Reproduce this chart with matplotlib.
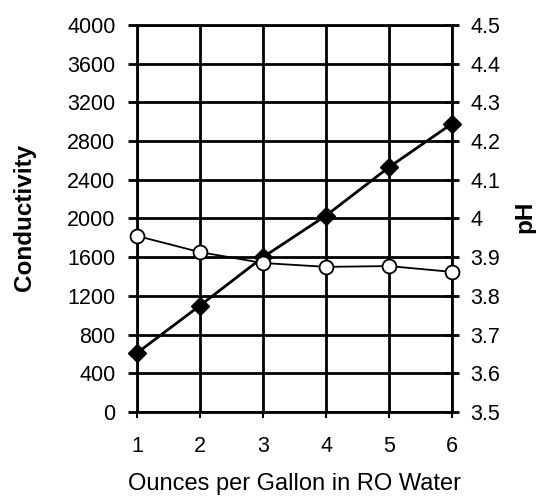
"""Conductivity and pH against ounces per gallon in RO water."""

import matplotlib.pyplot as plt

plt.rcParams["font.family"] = ["Liberation Sans", "DejaVu Sans"]

# data
OUNCES = [1, 2, 3, 4, 5, 6]
CONDUCTIVITY = [610, 1100, 1600, 2030, 2530, 2980]
PH = [3.955, 3.913, 3.885, 3.875, 3.877, 3.862]

COND_TICKS = list(range(0, 4001, 400))
PH_TICKS = [3.5, 3.6, 3.7, 3.8, 3.9, 4.0, 4.1, 4.2, 4.3, 4.4, 4.5]
PH_LABELS = ["3.5", "3.6", "3.7", "3.8", "3.9", "4", "4.1", "4.2", "4.3", "4.4", "4.5"]


def main():
    fig = plt.figure(figsize=(5.36, 4.96), dpi=100)
    ax = fig.add_axes([0.2556, 0.1694, 0.5877, 0.7802])
    ax2 = ax.twinx()

    ax.set_xlim(1, 6)
    ax.set_ylim(0, 4000)
    ax.set_xticks(OUNCES)
    ax.set_yticks(COND_TICKS)
    ax.grid(True, color="black", linewidth=2)
    ax.set_axisbelow(True)

    for spine in ax.spines.values():
        spine.set_linewidth(2)
    ax2.spines["right"].set_linewidth(1.3)
    for name in ["left", "top", "bottom"]:
        ax2.spines[name].set_visible(False)

    ax.tick_params(axis="y", length=6.5, width=2, pad=9, labelsize=15.5)
    ax.tick_params(axis="x", length=4.5, width=1.5, pad=13, labelsize=15.5)

    ax2.set_ylim(3.5, 4.5)
    ax2.set_yticks(PH_TICKS)
    ax2.set_yticklabels(PH_LABELS)
    ax2.tick_params(axis="y", direction="inout", length=10, width=2, pad=8,
                    labelsize=15.5)

    # conductivity: black diamonds (left axis)
    ax.plot(OUNCES, CONDUCTIVITY, color="black", linewidth=2, marker="D",
            markersize=9, markerfacecolor="black", clip_on=False, zorder=5)

    # pH: open circles (right axis)
    ax2.plot(OUNCES, PH, color="black", linewidth=1.3, marker="o",
             markersize=10, markerfacecolor="white", markeredgewidth=1.3,
             clip_on=False, zorder=5)

    ax.set_xlabel("Ounces per Gallon in RO Water", fontsize=17)
    ax.set_ylabel("Conductivity", fontsize=17.5, fontweight="bold", va="center")
    ax2.set_ylabel("pH", fontsize=17.5, fontweight="bold", va="center")
    ax.xaxis.set_label_coords(0.5, -0.158)
    ax.yaxis.set_label_coords(-0.356, 0.504)
    ax2.yaxis.set_label_coords(1.232, 0.504)

    fig.savefig("out.png", dpi=100, facecolor="white")
    plt.close(fig)


if __name__ == "__main__":
    main()
